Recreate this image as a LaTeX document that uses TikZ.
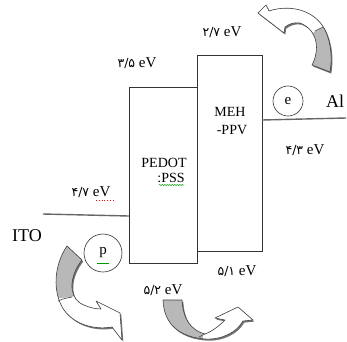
\documentclass[tikz,border=0pt]{standalone}
\usepackage{fontspec}
\setmainfont{Liberation Serif}
\newfontfamily\fa[Script=Arabic]{DejaVu Sans}
\usetikzlibrary{decorations.pathmorphing}
\tikzset{
  lbl/.style={inner sep=0pt, font=\fontsize{14}{16}\selectfont},
  big/.style={inner sep=0pt, font=\fontsize{18}{20}\selectfont},
  num/.style={inner sep=0pt, font=\fontsize{15}{17}\selectfont},
  boxline/.style={draw=black!80, line width=0.8pt},
  level/.style={draw=black!60, line width=1.4pt},
  arrline/.style={draw=black!75, line width=0.6pt, line join=round},
  arrshadow/.style={fill=black!55},
  arrback/.style={fill=black!28},
  arrfront/.style={fill=white},
  circ/.style={circle, draw=black!80, line width=0.6pt, inner sep=0pt, font=\fontsize{15}{17}\selectfont}
}
\newcommand{\FaNum}[1]{{\fa\fontsize{12.5}{14}\selectfont #1}}
\def\ArrowA{(312,65) .. controls (320,50) and (318,30) .. (300,23) .. controls (294,22) and (289,24) .. (285,27) -- (284,33) -- (258,13) -- (266,5) -- (269,11) .. controls (290,4) and (315,10) .. (325,30) .. controls (332,45) and (332,60) .. (330,72) -- cycle}
\def\ArrowB{(67,246) -- (82,260) .. controls (70,275) and (68,295) .. (80,303) .. controls (87,307) and (94,309) .. (101,309) -- (96,301) -- (120,313) -- (122,340) -- (112,327) .. controls (95,330) and (75,325) .. (64,310) .. controls (52,292) and (54,265) .. (67,246) -- cycle}
\def\ArrowC{(163,300) -- (182,300) .. controls (183,318) and (190,330) .. (205,334) .. controls (213,331) and (220,325) .. (225,320) -- (215,318) -- (238,307) -- (253,320) -- (243,321) .. controls (237,332) and (222,340) .. (205,339) .. controls (180,337) and (164,325) .. (163,300) -- cycle}
\begin{document}
\begin{tikzpicture}[x=1pt,y=-1pt]
\useasboundingbox (0,0) rectangle (347,341);
\fill[white] (0,0) rectangle (347,341);

% energy boxes
\draw[boxline] (129,263) rectangle (197,87);
\draw[boxline] (197,251) rectangle (262,55);
% electrode levels
\coordinate (itoL) at (43,214);
\coordinate (itoR) at (129,216);
\coordinate (alL) at (262,120);
\coordinate (alR) at (346,118);
\draw[level] (itoL) -- (itoR);
\draw[level] (alL) -- (alR);

% labels
\node[num] (n27) at (222,32) {\FaNum{۲/۷} eV};
\node[num] (n35) at (137,63) {\FaNum{۳/۵} eV};
\node[lbl] (meh) at (230,112) {MEH};
\node[lbl] (ppv) at (232,130) {-PPV};
\node[num] (n43) at (305,150) {\FaNum{۴/۳} eV};
\node[lbl] (pedot) at (164,163) {PEDOT};
\node[lbl] (pss) at (171,178) {:PSS};
\node[num] (n47) at (91,192) {\FaNum{۴/۷} eV};
\node[big] (ito) at (27,236) {ITO};
\node[big, anchor=west] (al) at (326,101) {Al};
\node[num] (n51) at (237,271) {\FaNum{۵/۱} eV};
\node[num] (n52) at (163,290) {\FaNum{۵/۲} eV};
\node[circ, minimum size=30pt] (e) at (288,101) {e};
\node[circ, minimum size=38pt] (p) at (103,253) {p};

% spell-check marks
\draw[red, dotted, line width=0.8pt] (96,200.5) -- (115,200.5);
\draw[green!60!black, line width=0.5pt, decorate, decoration={snake, amplitude=0.6pt, segment length=2.5pt}] (159,185) -- (184,185);
\draw[green!60!black, line width=0.5pt] (97,263) -- (109,263);

% curved arrows: shadow, back (gray), front (white), outline
\path[arrshadow, shift={(1.3,1.6)}] \ArrowA;
\path[arrback] \ArrowA;
\begin{scope}
  \clip (250,-5) -- (345,-5) -- (345,15) -- (323,27) -- (315,31) -- (300,45) -- (250,45) -- cycle;
  \path[arrfront] \ArrowA;
\end{scope}
\draw[arrline] \ArrowA;
\draw[arrline] (315,31) -- (323,27);

\path[arrshadow, shift={(1.3,1.6)}] \ArrowB;
\path[arrback] \ArrowB;
\begin{scope}
  \clip (40,300) -- (72,297) -- (90,288) -- (140,288) -- (140,345) -- (40,345) -- cycle;
  \path[arrfront] \ArrowB;
\end{scope}
\draw[arrline] \ArrowB;
\draw[arrline] (58,301) .. controls (64,298) and (68,298) .. (72,297);

\path[arrshadow, shift={(1.3,1.6)}] \ArrowC;
\path[arrback] \ArrowC;
\begin{scope}
  \clip (203,290) -- (260,290) -- (260,345) -- (203,345) -- cycle;
  \path[arrfront] \ArrowC;
\end{scope}
\draw[arrline] \ArrowC;
\draw[arrline] (199,337) .. controls (203,335) and (205,334) .. (205,334);
\end{tikzpicture}
\end{document}
